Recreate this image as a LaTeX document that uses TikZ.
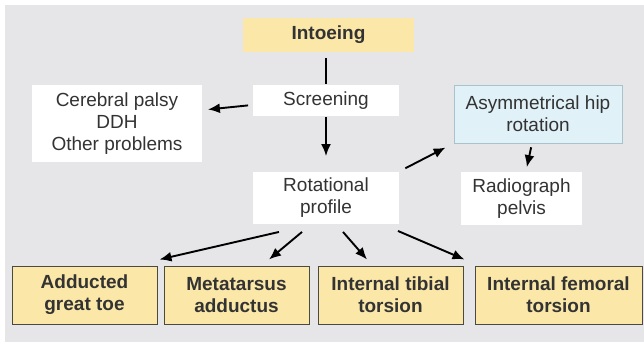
\documentclass[tikz,border=0pt]{standalone}
\usepackage{fontspec}
\setmainfont{Liberation Sans}
\usepackage{tikz}
\usetikzlibrary{arrows.meta}
\definecolor{bggray}{HTML}{E6E6E8}
\definecolor{paleyellow}{HTML}{FBE8A8}
\definecolor{paleblue}{HTML}{E0F1F8}
\definecolor{blueedge}{HTML}{A9C3CD}
\definecolor{darkedge}{HTML}{4A4A42}
\definecolor{txtgray}{HTML}{333333}

\begin{document}
\begin{tikzpicture}[x=1pt,y=-1pt,line width=1.9pt,>={Latex[length=12pt,width=10pt]},
  every node/.style={font=\fontsize{19}{22}\selectfont,align=center,inner sep=0pt,text=txtgray},
  whitebox/.style={fill=white},
  topbox/.style={fill=paleyellow,font=\fontsize{19}{22}\selectfont\bfseries},
  bluebox/.style={fill=paleblue,draw=blueedge,line width=0.8pt},
  endbox/.style={fill=paleyellow,draw=darkedge,line width=1pt,minimum height=58pt,font=\fontsize{19}{22}\selectfont\bfseries}]
%[background]
\useasboundingbox (0,0) rectangle (644,344);
\fill[white] (0,0) rectangle (644,344);
\fill[bggray] (5,5) rectangle (644,342);

\path (328.5,35) node (intoeing) [topbox,minimum width=171pt,minimum height=34pt] {Intoeing};
\path (326,100.5) node (screening) [whitebox,minimum width=146pt,minimum height=31pt] {Screening};
\path (117,123.5) node (cerebral) [whitebox,minimum width=170pt,minimum height=77pt] {Cerebral palsy\\DDH\\Other problems};
\path (538,114) node (asym) [bluebox,minimum width=168pt,minimum height=58pt] {Asymmetrical hip\\rotation};
\path (326,198) node (rotational) [whitebox,minimum width=146pt,minimum height=52pt] {Rotational\\profile};
\path (521.5,198.5) node (radiograph) [whitebox,minimum width=121pt,minimum height=53pt] {Radiograph\\pelvis};

\path (84.5,295) node (greattoe) [endbox,minimum width=145pt] {Adducted\\great toe};
\path (236.5,295) node (metatarsus) [endbox,minimum width=145pt] {Metatarsus\\adductus};
\path (390.5,295) node (tibial) [endbox,minimum width=145pt] {Internal tibial\\torsion};
\path (558.5,295) node (femoral) [endbox,minimum width=167pt] {Internal femoral\\torsion};

\draw [shorten <=5pt] (screening.north |- intoeing.south) to (screening.north);
\draw [->,shorten <=4pt,shorten >=5pt] ([yshift=-4.5pt]screening.west) to ([yshift=13.5pt]cerebral.east);
\draw [->,shorten >=15pt] (screening.south) to (rotational.north);
\draw [->,shorten <=6pt,shorten >=9pt] (rotational.north east) to (asym.south west);
\draw [->,shorten <=4pt,shorten >=4pt] ([xshift=-6pt]asym.south) to ([xshift=4.5pt]radiograph.north);

\draw [->] ([xshift=-47pt,yshift=-7pt]rotational.south) to ([xshift=2pt,yshift=6pt]greattoe.north east);
\draw [->] ([xshift=-24pt,yshift=-7pt]rotational.south) to ([xshift=32.5pt,yshift=6pt]metatarsus.north);
\draw [->] ([xshift=17pt,yshift=-7pt]rotational.south) to ([xshift=-23.5pt,yshift=6pt]tibial.north);
\draw [->] ([xshift=-2pt,yshift=-6pt]rotational.south east) to ([xshift=-10pt,yshift=6pt]femoral.north west);
\end{tikzpicture}
\end{document}
